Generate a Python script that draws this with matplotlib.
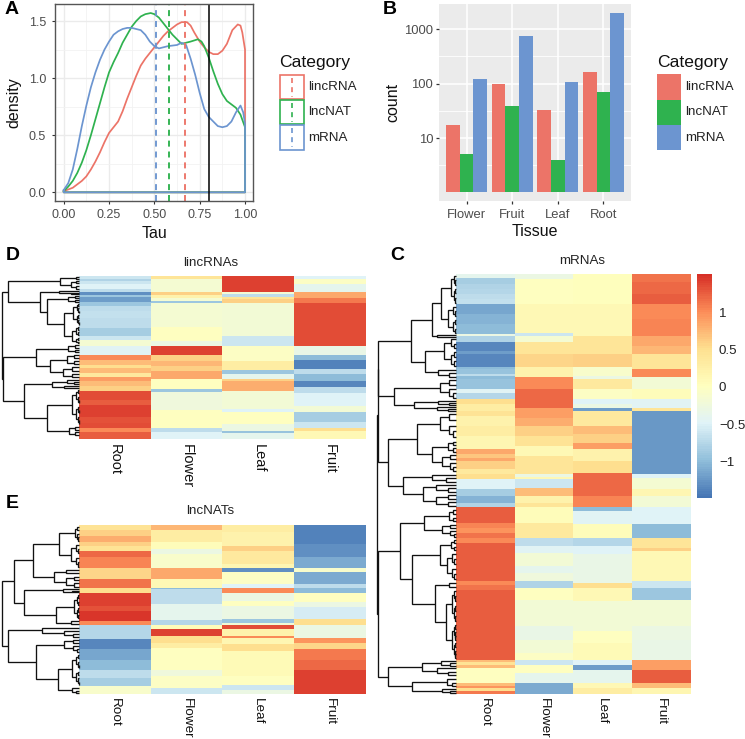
import numpy as np
import matplotlib
matplotlib.use("Agg")
import matplotlib.pyplot as plt
from matplotlib.colors import LinearSegmentedColormap
from matplotlib.patches import Rectangle
from matplotlib.ticker import NullFormatter

plt.rcParams['font.family'] = ['Liberation Sans', 'DejaVu Sans']
W, H = 745, 739

# ---------- data ----------
categories = ['lincRNA', 'lncNAT', 'mRNA']
cat_colors = ['#EC7468', '#2FB24F', '#6C95D0']
tissues = ['Flower', 'Fruit', 'Leaf', 'Root']
bar_lincRNA = [17, 100, 33, 160]
bar_lncNAT = [5, 38, 4, 70]
bar_mRNA = [120, 760, 107, 2000]

mean_tau = [0.67, 0.58, 0.51]
cut_tau = 0.8

tau_m = [0, .025, .05, .075, .1, .125, .15, .175, .2, .225, .25, .275, .3, .325, .35, .375, .4, .425, .45, .475, .5,
         .525, .55, .575, .6, .625, .65, .675, .7, .725, .75, .775, .8, .825, .85, .875, .9, .925, .95, .975, .99, 1]
dens_m = [.02, .08, .2, .38, .58, .76, .92, 1.05, 1.16, 1.25, 1.32, 1.38, 1.41, 1.43, 1.44, 1.44, 1.43, 1.42, 1.38,
          1.32, 1.28, 1.26, 1.27, 1.28, 1.285, 1.29, 1.31, 1.29, 1.17, 1.03, .87, .73, .66, .62, .58, .57, .58, .62,
          .7, .76, .7, .6]
tau_n = [0, .025, .05, .075, .1, .125, .15, .175, .2, .225, .25, .275, .3, .325, .35, .375, .4, .425, .45, .48, .5,
         .525, .55, .575, .6, .625, .65, .675, .7, .74, .76, .775, .8, .825, .85, .875, .9, .925, .95, .975, 1]
dens_n = [.01, .05, .1, .17, .26, .37, .5, .64, .78, .92, 1.05, 1.14, 1.22, 1.31, 1.38, 1.45, 1.5, 1.54, 1.56, 1.57,
          1.56, 1.53, 1.48, 1.43, 1.38, 1.34, 1.3, 1.31, 1.32, 1.34, 1.32, 1.28, 1.18, 1.06, .95, .86, .8, .77, .74,
          .68, .57]
tau_l = [0, .05, .1, .125, .15, .175, .2, .225, .25, .3, .325, .35, .375, .4, .425, .45, .5, .525, .55, .575, .6,
         .625, .65, .68, .7, .72, .75, .775, .8, .825, .85, .875, .9, .915, .93, .96, .975, .985, .995, 1]
dens_l = [.01, .04, .1, .14, .2, .27, .35, .44, .52, .62, .71, .82, .92, 1.02, 1.11, 1.17, 1.27, 1.32, 1.37, 1.41,
          1.44, 1.47, 1.49, 1.49, 1.46, 1.4, 1.32, 1.27, 1.23, 1.21, 1.21, 1.24, 1.3, 1.36, 1.42, 1.47, 1.46, 1.4,
          1.3, 1.25]

heat_tissues = ['Root', 'Flower', 'Leaf', 'Fruit']

# D: lincRNAs (row boundaries, values per tissue)
D_root_b = [107, 118, 125, 135, 150, 158, 166, 172, 188, 200, 215, 235, 265, 290, 300, 320, 347, 360, 375, 385, 400, 412, 425, 440, 453, 480, 495, 530, 550, 565, 575, 597]
D_root_v = [-.6, -.8, -.6, -.5, -.7, -1.3, -.9, -1.2, -.9, -.7, -.65, -.7, -.85, -.6, -.15, -.45, 1.0, .7, .5, .7, .35, .9, .7, .6, 1.35, 1.25, 1.4, 1.3, 1.35, 1.0, 1.25]
D_flow_b = [107, 120, 158, 168, 175, 185, 192, 262, 305, 320, 347, 365, 380, 395, 418, 448, 458, 510, 565, 575, 597]
D_flow_v = [.4, -.15, .6, .2, -.15, -.9, -.15, -.02, -.3, 1.4, .6, .75, .6, .85, 0, -.9, -.25, 0, -.7, -.5]
D_leaf_b = [107, 158, 165, 172, 180, 190, 290, 320, 365, 390, 403, 418, 425, 455, 508, 516, 552, 572, 580, 597]
D_leaf_v = [1.4, -.2, -.7, .45, .6, -.2, -.6, -.05, .3, -.9, -.4, .6, .8, -.2, -.5, 0, -.3, -.95, -.4]
D_frui_b = [107, 118, 135, 158, 175, 190, 320, 345, 362, 388, 403, 425, 443, 460, 498, 516, 545, 563, 573, 597]
D_frui_v = [-.5, -.05, -.4, .85, 1.1, 1.35, -.35, -1.0, -1.4, -.7, -1.0, -1.35, -.7, -.5, -.2, -.85, -.6, .5, .1]

# E: lncNATs
E_root_b = [105, 123, 140, 158, 170, 186, 205, 237, 270, 295, 310, 350, 365, 395, 408, 450, 478, 510, 540, 565, 590, 613]
E_root_v = [.45, .6, .8, .6, .45, 1.2, 1.05, .55, 1.15, .5, 1.4, 1.3, 1.45, 1.0, -.75, -1.35, -1.15, -1.0, -.7, -.85, -.1]
E_flow_b = [105, 123, 160, 180, 195, 237, 270, 295, 300, 345, 393, 408, 420, 440, 460, 475, 540, 560, 595, 613]
E_flow_v = [.75, .3, .05, -.3, -.1, .85, .1, -1, -.7, -.4, -.75, .05, 1.4, .5, .3, -.02, -.25, -.05, -.6]
E_leaf_b = [105, 130, 170, 185, 225, 237, 247, 283, 297, 312, 335, 350, 390, 400, 408, 420, 440, 445, 465, 485, 560, 585, 600, 613]
E_leaf_v = [.3, .2, .6, .35, .15, -1.3, -.05, -.5, 1.0, -.3, 0, -.3, -.9, -.2, 1.35, .2, 1.0, .15, .5, .08, -.02, -.6, -.3]
E_frui_b = [105, 165, 205, 237, 247, 285, 297, 310, 338, 352, 390, 408, 445, 462, 480, 510, 540, 613]
E_frui_v = [-1.4, -1.3, -1.1, -.1, -1.1, -.7, -1.0, 0, -.3, -.55, .5, -.3, .95, .55, 1.1, 1.2, 1.4]

# C: mRNAs
C_root_b = [102, 118, 135, 150, 165, 180, 195, 225, 255, 285, 292, 308, 335, 345, 385, 390, 405, 412, 420, 448, 460, 480, 495, 515, 530, 560, 590, 630, 645, 655, 665, 690, 705, 720, 750, 770, 790, 804, 850, 865, 880, 895, 910, 1025, 1038, 1050, 1260, 1268, 1275, 1285, 1330, 1338, 1345, 1353, 1363]
C_root_v = [-.4, -.85, -.8, -.75, -.7, -.65, -1.15, -1.05, -1.0, -.3, -.8, -1.35, -1.2, -1.35, -1.0, -.95, -.7, -1.0, -.95, -.45, -.75, .5, .3, .45, .2, .3, .15, .85, .65, .85, .6, .35, .5, -.5, -.85, -1.05, -.8, 1.25, 1.05, .95, 1.15, 1.0, 1.25, 1.0, 1.15, 1.25, .7, .45, .7, 0, .7, .95, .5, 1.1]
C_flow_b = [102, 120, 195, 282, 292, 308, 345, 385, 415, 450, 505, 535, 560, 590, 620, 650, 705, 712, 720, 745, 770, 790, 804, 850, 895, 920, 940, 980, 1000, 1025, 1045, 1080, 1160, 1200, 1240, 1260, 1275, 1300, 1330, 1363]
C_flow_v = [-.3, -.02, .12, -.6, -.15, .4, .55, .2, 1.0, 1.2, .9, .8, .6, .45, .1, .4, -.3, .1, -.6, .7, .2, .4, .05, .35, -.7, -.45, -.2, -.4, -.25, -.8, 0, -.2, -.35, -.2, -.05, -.6, 0, -.4, -1.1]
C_leaf_b = [102, 195, 290, 345, 385, 410, 420, 448, 480, 495, 505, 515, 560, 585, 610, 630, 665, 700, 770, 804, 815, 855, 895, 920, 945, 1030, 1045, 1085, 1175, 1210, 1260, 1275, 1290, 1330, 1345, 1363]
C_leaf_v = [.03, .12, .4, .6, -.1, -.3, .35, -.05, -.5, -.3, -1.2, .35, .7, .6, .9, .2, .5, 1.2, 1.05, -1.0, -.45, .05, -.75, -.5, -.35, .5, .1, -.2, 0, .08, -.5, -1.2, -.4, .1, .3]
C_frui_b = [102, 130, 165, 195, 240, 290, 320, 345, 390, 415, 450, 480, 505, 515, 705, 715, 750, 770, 804, 855, 895, 925, 935, 1025, 1045, 1082, 1160, 1200, 1260, 1290, 1330, 1345, 1363]
C_frui_v = [1.15, 1.2, 1.25, 1.0, 1.05, .85, .75, .4, 1.0, -.2, .05, -.45, .4, -1.25, -.5, -.15, .15, -.2, -.5, -1.0, .4, .6, .12, -.6, -.9, -.2, -.3, -.35, .9, 1.25, .7, .15]

# dendrograms: (height, child, child) is a merge, [height, sizes...] a tight cluster
tree_D = (234,
          (215, (57, [8, 6, 5], [25, 8, 8, 8, 8]),
           (119, [60, 6, 4, 4], (97, [32, 6, 6, 6, 5], (47, [18] + [7] * 10, [22, 8, 8, 8, 8, 8, 5, 5, 5])))),
          (231, (132, [32, 7, 7, 7, 6], (87, [35, 10, 10, 9, 9], [50, 10, 10, 10, 10])),
           (167, (82, [35, 6, 6, 6], [45, 5, 5]), (97, [22, 10, 10, 10, 10, 10, 10, 10, 10, 10, 10, 12], [30, 8, 8, 8, 8]))))
tree_E = (235,
          (199, (140, (60, [12, 11, 11, 10, 10, 11], [25, 13, 13, 13, 13, 13, 14]),
                 (77, [40, 9, 9], [40, 10, 10, 10, 10])),
           (167, [50, 5, 5, 5], (70, [15, 10, 10, 10, 10, 10, 10, 10, 10], [25, 9, 9]))),
          (215, (112, 10, [47, 9, 9, 9]),
           (132, [47, 9, 9, 9, 9, 9], (64, [20, 10, 10, 10, 10, 10, 10, 10, 10, 10, 10], [22, 8, 8, 7]))))
tree_C = (236,
          (234, (234,
                 (134, (72, (45, [15, 13, 13, 13, 13, 13, 14, 14], [22, 13, 13, 13, 13, 13, 13, 12]), [57, 3, 4]),
                  (92, [34, 13, 13, 13, 13, 13, 14, 14], [52, 10, 10, 10])),
                 (184, [47, 13, 13, 13, 13, 13], (124, [52, 6, 6, 5], [57, 6, 6, 6]))),
           (202, (117, [47, 17, 17, 17, 17, 17], (70, [22, 10, 10, 10, 10], [42, 12, 12, 12, 12, 12])),
            (157, [72, 10, 10, 10], (97, [60, 10, 10, 10], [60, 11, 11, 11, 11])))),
          (234,
           (167, (94, [20, 12, 12, 11, 11], [40, 9, 9, 9, 9, 9]),
            (130, (47, [15, 10, 10, 10, 10], [25, 15, 15, 15, 15, 15, 15]),
             (62, [20, 10, 10], (30, [10, 15, 15, 15, 15, 15, 15, 15], [10, 11, 11, 11, 11, 11, 11, 11, 11, 11, 11])))),
           (202, (102, [45, 7, 7, 6], [55, 10, 10, 10]), (132, [25, 12, 12, 11], [40, 6, 6, 6]))))

colorbar_ticks = [-1, -0.5, 0, 0.5, 1]
colorbar_labels = ['\u22121', '\u22120.5', '0', '0.5', '1']

# ---------- helpers ----------
fig = plt.figure(figsize=(W / 100, H / 100), dpi=100, facecolor='white')


def axpx(x0, y0, x1, y1):
    return fig.add_axes([x0 / W, 1 - y1 / H, (x1 - x0) / W, (y1 - y0) / H])


def tpx(x, y, s, **kw):
    kw.setdefault('va', 'center')
    return fig.text(x / W, 1 - y / H, s, **kw)


heat_cmap = LinearSegmentedColormap.from_list(
    'rdylbu', ['#4575B4', '#91BFDB', '#E0F3F8', '#FFFFBF', '#FEE090', '#FC8D59', '#D73027'], N=100)
VMIN, VMAX = -1.49, 1.51


def column(b, v):
    return np.repeat(np.array(v, float), np.diff(b))


def draw_cluster(ax, node, y0):
    """Draw a subtree, return (y position, height, next free row)."""
    if isinstance(node, (int, np.integer)):
        return y0 + node / 2, 0, y0 + node
    if isinstance(node, list):
        h, sizes = node[0], node[1:]
        if len(sizes) == 1:
            return draw_cluster(ax, sizes[0], y0)
        mid = len(sizes) // 2
        children = ([h * 0.4] + sizes[:mid], [h * 0.4] + sizes[mid:])
    else:
        h, children = node[0], node[1:]
    ya, ha, y1 = draw_cluster(ax, children[0], y0)
    yb, hb, y2 = draw_cluster(ax, children[1], y1)
    ax.plot([ha, h, h, hb], [ya, ya, yb, yb], color='#111111', lw=0.95, solid_joinstyle='miter',
            solid_capstyle='butt', clip_on=False)
    return (ya + yb) / 2, h, y2


def heatmap(box, dend_left, left_units, cols, tree, title, title_xy, label_size, label_pad):
    x0, y0, x1, y1 = box
    ax = axpx(x0, y0, x1, y1)
    mat = np.column_stack([column(b, v) for b, v in cols])
    im = ax.imshow(mat, aspect='auto', cmap=heat_cmap, vmin=VMIN, vmax=VMAX, interpolation='nearest')
    ax.set_xticks(range(4), heat_tissues, rotation=270, fontsize=label_size, color='#111111')
    ax.tick_params(axis='x', length=0, pad=label_pad)
    ax.set_yticks([])
    for s in ax.spines.values():
        s.set_visible(False)
    for lab in ax.get_xticklabels():
        lab.set_va('top')
        lab.set_ha('center')
    d = axpx(dend_left, y0, x0, y1)
    d.set_xlim(left_units, 0)
    d.set_ylim(mat.shape[0], 0)
    d.axis('off')
    draw_cluster(d, tree, 0)
    tpx(title_xy[0], title_xy[1], title, ha='center', fontsize=9.6, color='#222222')
    return im


# ---------- panel A ----------
axA = axpx(55, 4, 253, 201)
axA.set_xlim(-0.048, 1.044)
axA.set_ylim(-0.076, 1.649)
axA.set_xticks([0, .25, .5, .75, 1], ['0.00', '0.25', '0.50', '0.75', '1.00'])
axA.set_yticks([0, .5, 1, 1.5], ['0.0', '0.5', '1.0', '1.5'])
axA.set_xticks([.125, .375, .625, .875], minor=True)
axA.set_yticks([.25, .75, 1.25], minor=True)
axA.grid(which='major', color='#EBEBEB', lw=1.0)
axA.grid(which='minor', color='#F2F2F2', lw=0.6)
axA.set_axisbelow(True)
axA.tick_params(which='minor', length=0)
axA.tick_params(which='major', length=2.5, width=0.8, color='#333333', labelcolor='#4D4D4D', labelsize=9)
axA.tick_params(axis='x', which='major', pad=3.5)
axA.tick_params(axis='y', which='major', pad=4)
for s in axA.spines.values():
    s.set_color('#555555')
    s.set_linewidth(1.0)
for tx, dn, c in zip([tau_l, tau_n, tau_m], [dens_l, dens_n, dens_m], cat_colors):
    xs = list(tx) + [tx[-1], tx[0], tx[0]]
    ys = list(dn) + [0, 0, dn[0]]
    axA.plot(xs, ys, color=c, lw=1.25, solid_joinstyle='round')
for m, c in zip(mean_tau, cat_colors):
    axA.axvline(m, color=c, lw=1.35, ls=(0, (3.2, 2.6)))
axA.axvline(cut_tau, color='black', lw=1.1)
axA.set_xlabel('Tau', fontsize=11.5, labelpad=3, color='#111111')
axA.set_ylabel('density', fontsize=11.5, labelpad=5, color='#111111')

tpx(279, 62, 'Category', fontsize=12.6, ha='left', color='#111111')
for i, (c, lab) in enumerate(zip(cat_colors, categories)):
    ytop = 74.5 + i * 25.3
    fig.add_artist(Rectangle((280 / W, 1 - (ytop + 24.5) / H), 24 / W, 24.5 / H, fill=False, edgecolor=c, lw=1.2,
                             transform=fig.transFigure))
    fig.add_artist(plt.Line2D([292 / W, 292 / W], [1 - (ytop + 3) / H, 1 - (ytop + 22) / H], color=c, lw=1.2,
                              ls=(0, (3, 2.5)), transform=fig.transFigure))
    tpx(308, ytop + 12.5, lab, fontsize=9.6, ha='left', color='#222222')

# ---------- panel B ----------
axB = axpx(439.3, 4, 630.7, 201)
axB.set_facecolor('#EBEBEB')
axB.set_yscale('log')
axB.set_xlim(-0.6, 3.6)
axB.set_ylim(10 ** -0.156, 10 ** 3.459)
pos = np.arange(len(tissues))
bw = 0.3
for k, (vals, c) in enumerate(zip([bar_lincRNA, bar_lncNAT, bar_mRNA], cat_colors)):
    axB.bar(pos + (k - 1) * bw, np.array(vals) - 1, bw, bottom=1, color=c, zorder=3, lw=0)
axB.set_xticks(pos, tissues)
axB.set_yticks([10, 100, 1000], ['10', '100', '1000'])
axB.set_yticks([10 ** .5, 10 ** 1.5, 10 ** 2.5], minor=True)
axB.yaxis.set_minor_formatter(NullFormatter())
axB.grid(which='major', color='white', lw=1.1)
axB.grid(which='minor', axis='y', color='white', lw=0.6)
axB.set_axisbelow(True)
axB.tick_params(which='minor', length=0)
axB.tick_params(which='major', length=2.5, width=0.9, color='#333333', labelcolor='#4D4D4D', labelsize=9.4)
axB.tick_params(axis='x', which='major', pad=3.5)
axB.tick_params(axis='y', which='major', pad=2)
for s in axB.spines.values():
    s.set_visible(False)
axB.set_xlabel('Tissue', fontsize=11.5, labelpad=2, color='#111111')
axB.set_ylabel('count', fontsize=11.5, labelpad=3, color='#111111')

tpx(657, 62, 'Category', fontsize=12.6, ha='left', color='#111111')
for i, (c, lab) in enumerate(zip(cat_colors, categories)):
    ytop = 74.5 + i * 25.3
    fig.add_artist(Rectangle((657 / W, 1 - (ytop + 25) / H), 24 / W, 25 / H, facecolor=c, edgecolor='none',
                             transform=fig.transFigure))
    tpx(685, ytop + 12.5, lab, fontsize=9.6, ha='left', color='#222222')

# ---------- heatmaps ----------
heatmap((79, 275.7, 366, 439), 1, 237,
        [(D_root_b, D_root_v), (D_flow_b, D_flow_v), (D_leaf_b, D_leaf_v), (D_frui_b, D_frui_v)],
        tree_D, 'lincRNAs', (211, 262.7), 10.5, 3.5)
heatmap((79, 525, 366, 694.3), 1, 237,
        [(E_root_b, E_root_v), (E_flow_b, E_flow_v), (E_leaf_b, E_leaf_v), (E_frui_b, E_frui_v)],
        tree_E, 'lncNATs', (210, 510.7), 9.7, 2.5)
imC = heatmap((455.7, 274, 689.7, 694.3), 376, 239,
              [(C_root_b, C_root_v), (C_flow_b, C_flow_v), (C_leaf_b, C_leaf_v), (C_frui_b, C_frui_v)],
              tree_C, 'mRNAs', (581.7, 261), 9.7, 2.5)

cax = axpx(697.3, 274, 712, 498)
cb = fig.colorbar(imC, cax=cax)
cb.outline.set_visible(False)
cb.set_ticks(colorbar_ticks, labels=colorbar_labels)
cax.tick_params(length=0, labelsize=9.6, pad=5, labelcolor='#222222')

# ---------- panel letters ----------
for (x, y, s) in [(5, 10, 'A'), (383, 10, 'B'), (390, 255, 'C'), (6, 256, 'D'), (6, 503, 'E')]:
    tpx(x, y, s, fontsize=14, fontweight='bold', ha='left', color='black')

fig.savefig('out.png', dpi=100)
